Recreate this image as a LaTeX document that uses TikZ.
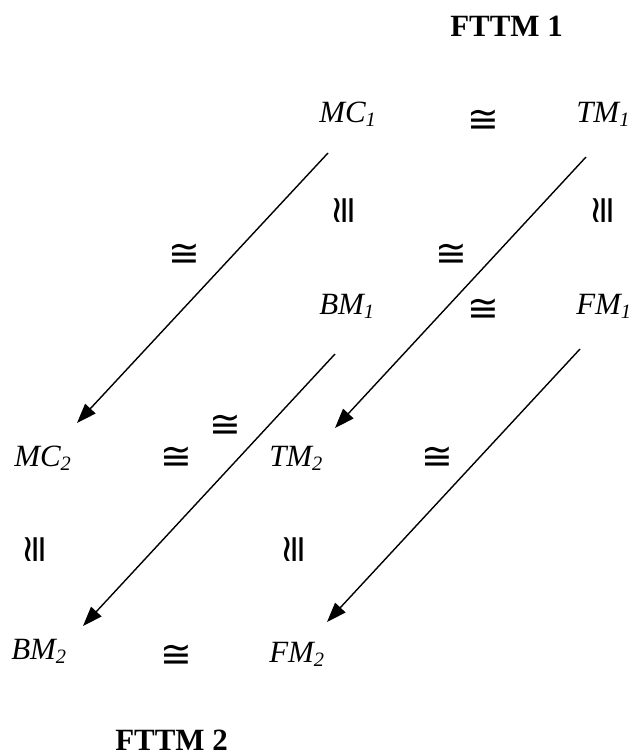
\documentclass[tikz,border=0pt]{standalone}
\usepackage{fontspec}
\setmainfont{Liberation Serif}
\newfontfamily\symfont{DejaVu Sans}
\usepackage{tikz}
\usetikzlibrary{positioning, arrows.meta, calc}
\newcommand{\sbs}[1]{\raisebox{-0.12em}{\fontsize{14.5}{14.5}\selectfont #1}}
\newcommand{\mfld}[2]{\textit{#1\sbs{#2}}}
\tikzset{
  obj/.style={font=\fontsize{22}{26}\selectfont, inner sep=0pt, anchor=base west},
  ttl/.style={font=\fontsize{22}{26}\selectfont\bfseries, inner sep=0pt, anchor=base west},
  iso/.style={font=\fontsize{27}{30}\symfont, inner sep=0pt},
  vis/.style={iso, rotate=90},
  arr/.style={-{Triangle[length=14pt, width=10pt]}, line width=1pt},
}

\begin{document}
\begin{tikzpicture}
  \useasboundingbox (0,0) rectangle (15.825,18.875);

  % titles
  \node[ttl] (fttmA) at (11.25,17.95) {FTTM 1};
  \node[ttl] (fttmB) at (2.875,0.125) {FTTM 2};

  % FTTM 1 objects
  \node[obj] (MC1) at (7.975,15.8) {\mfld{MC}{1}};
  \node[obj] (TM1) at (14.4,15.8) {\mfld{TM}{1}};
  \node[obj] (BM1) at (7.975,11.0) {\mfld{BM}{1}};
  \node[obj] (FM1) at (14.4,11.0) {\mfld{FM}{1}};

  % FTTM 2 objects
  \node[obj] (MC2) at (0.35,7.2) {\mfld{MC}{2}};
  \node[obj] (TM2) at (6.725,7.2) {\mfld{TM}{2}};
  \node[obj] (BM2) at (0.275,2.375) {\mfld{BM}{2}};
  \node[obj] (FM2) at (6.725,2.3) {\mfld{FM}{2}};

  % isomorphism signs
  \node[iso] (isoA) at (12.075,15.85) {≅};
  \node[iso] (isoB) at (4.6,12.5) {≅};
  \node[iso] (isoC) at (11.275,12.5) {≅};
  \node[iso] (isoD) at (12.075,11.125) {≅};
  \node[iso] (isoE) at (5.625,8.225) {≅};
  \node[iso] (isoF) at (4.4,7.425) {≅};
  \node[iso] (isoG) at (10.925,7.425) {≅};
  \node[iso] (isoH) at (4.4,2.475) {≅};

  % vertical isomorphisms
  \node[vis] (visA) at (8.625,13.6) {≅};
  \node[vis] (visB) at (15.1,13.6) {≅};
  \node[vis] (visC) at (0.9,5.125) {≅};
  \node[vis] (visD) at (7.375,5.125) {≅};

  % maps from FTTM 1 to FTTM 2
  \draw[arr] ($(MC1.base west)+(0.225,-0.75)$) -- ($(MC2.base west)+(1.575,1.1)$);
  \draw[arr] ($(TM1.base west)+(0.25,-0.85)$) -- ($(TM2.base west)+(1.65,0.975)$);
  \draw[arr] ($(BM1.base west)+(0.4,-0.975)$) -- ($(BM2.base west)+(1.8,0.85)$);
  \draw[arr] ($(FM1.base west)+(0.1,-0.85)$) -- ($(FM2.base west)+(1.45,1.025)$);
\end{tikzpicture}
\end{document}
